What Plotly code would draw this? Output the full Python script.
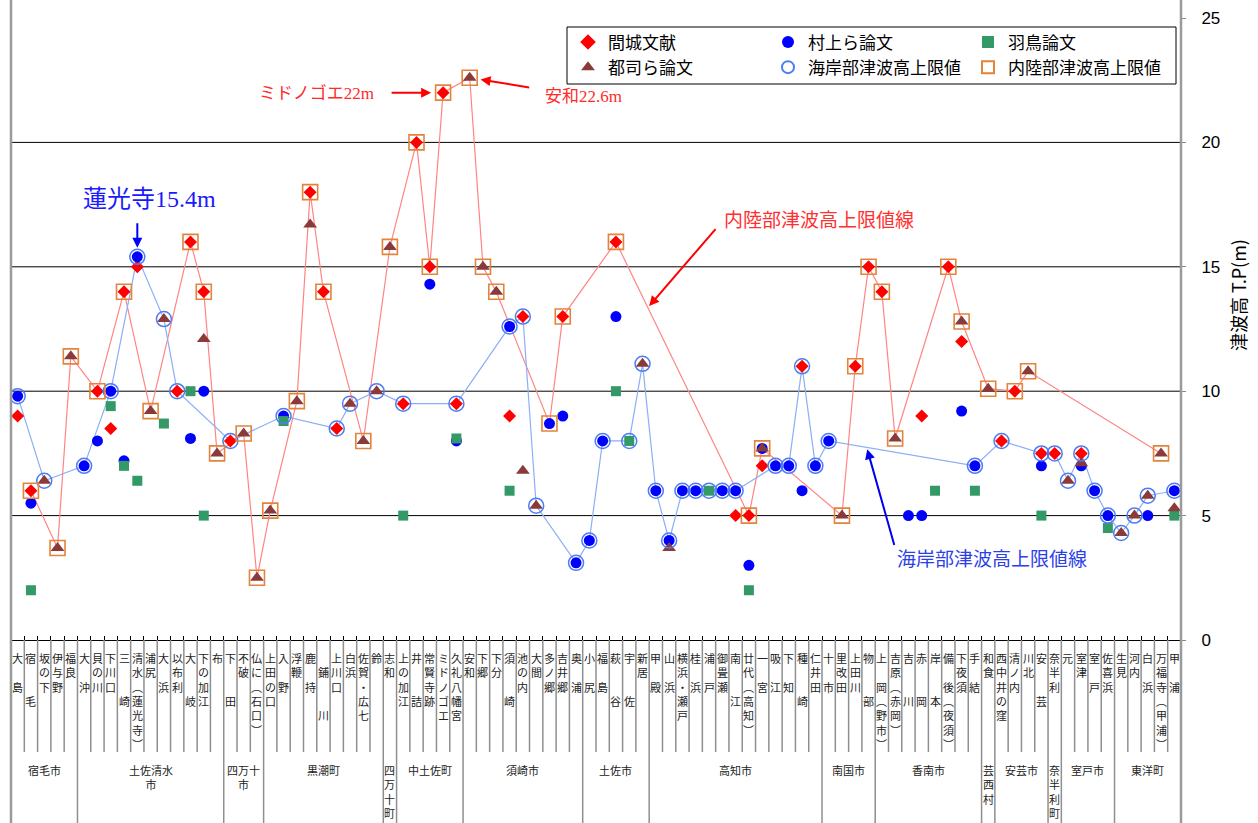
import plotly.graph_objects as go

N = None

# Coastal survey sites, west to east (vertical labels; "　" keeps a blank row)
places = [
    "大　島", "宿　　毛", "坂の下", "伊与野", "福良", "大　沖", "貝の川", "下川口", "三　　崎", "清水︵蓮光寺︶",
    "浦尻", "大　浜", "以布利", "大　　岐", "下の加江", "布", "下　　田", "不破", "仏に︵石口︶", "上田の口",
    "入　野", "浮鞭", "鹿　持", "　鋪　　川", "上川口", "白浜", "佐賀・広七", "鈴", "志和", "上の加江",
    "井　　詰", "常賢寺跡", "ミドノゴエ", "久礼八幡宮", "安和", "下郷", "下分", "須　　崎", "池の内", "大間",
    "多ノ郷", "吉井郷", "奥　浦", "小　尻", "福　島", "萩　　谷", "宇　　佐", "新居", "甲　殿", "山　浜",
    "横浜・瀬戸", "桂　浜", "浦　戸", "御畳瀬", "南　　江", "廿代︵高知︶", "一　宮", "吸　江", "下　知", "種　　崎",
    "仁井田", "十　市", "里改田", "上田川", "物　　部", "上　岡︵野市︶", "吉原︵赤岡︶", "吉　　川", "赤　　岡", "岸　　本",
    "備　後︵夜須︶", "下夜須", "手　結", "和食", "西中井の窪", "清ノ内", "川北", "安　　芸", "奈半利", "元",
    "室津", "室　戸", "佐喜浜", "生見", "河内", "白　浜", "万福寺︵甲浦︶", "甲　浦",
]

# Municipalities and how many sites each one holds
group_names = [
    "宿毛市", "土佐清水\n市", "四万十\n市", "黒潮町", "四\n万\n十\n町", "中土佐町", "須崎市", "土佐市",
    "高知市", "南国市", "香南市", "芸\n西\n村", "安芸市", "奈\n半\n利\n町", "室戸市", "東洋町",
]
group_sizes = [5, 11, 3, 9, 1, 5, 9, 5, 13, 4, 8, 1, 4, 1, 4, 5]

# Tsunami heights T.P.(m)
mashiro = [
    9.0, 6.0, N, N, N, N, 10.0, 8.5, 14.0, 15.0,
    N, N, 10.0, 16.0, 14.0, N, 8.0, N, N, N,
    N, N, 18.0, 14.0, 8.5, N, N, N, N, 9.5,
    20.0, 15.0, 22.0, 9.5, N, N, N, 9.0, 13.0, N,
    N, 13.0, N, N, N, 16.0, N, N, N, N,
    N, N, N, N, 5.0, 5.0, 7.0, N, N, 11.0,
    N, N, N, 11.0, 15.0, 14.0, N, N, 9.0, N,
    15.0, 12.0, N, N, 8.0, 10.0, N, 7.5, 7.5, N,
    7.5, N, N, N, N, N, N, N,
]
murakami = [
    9.8, 5.5, N, N, N, 7.0, 8.0, 10.0, 7.2, 15.4,
    N, N, N, 8.1, 10.0, N, N, N, N, N,
    9.0, N, N, N, N, N, N, N, N, N,
    N, 14.3, N, 8.0, N, N, N, 12.6, N, N,
    8.7, 9.0, 3.1, 4.0, 8.0, 13.0, N, N, 6.0, 4.0,
    6.0, 6.0, N, 6.0, 6.0, 3.0, 7.7, 7.0, 7.0, 6.0,
    7.0, 8.0, N, N, N, N, N, 5.0, 5.0, N,
    N, 9.2, 7.0, N, N, N, N, 7.0, N, N,
    7.0, 6.0, 5.0, N, N, 5.0, N, 6.0,
]
hatori = [
    N, 2.0, N, N, N, N, N, 9.4, 7.0, 6.4,
    N, 8.7, N, 10.0, 5.0, N, N, N, N, N,
    8.8, N, N, N, N, N, N, N, N, 5.0,
    N, N, N, 8.1, N, N, N, 6.0, N, N,
    N, N, N, N, N, 10.0, 8.0, N, N, N,
    N, N, 6.0, N, N, 2.0, N, N, N, N,
    N, N, N, N, N, N, N, N, N, 6.0,
    N, N, 6.0, N, N, N, N, 5.0, N, N,
    N, N, 4.5, N, N, N, N, 5.0,
]
tsuji = [
    N, N, 6.4, 3.7, 11.4, N, N, N, N, N,
    9.2, 12.9, N, N, 12.1, 7.5, N, 8.3, 2.5, 5.2,
    N, 9.6, 16.7, N, N, 9.5, 8.0, 10.0, 15.8, N,
    N, N, N, N, 22.6, 15.0, 14.0, N, 6.8, 5.4,
    N, N, N, N, N, N, N, 11.1, N, 3.7,
    N, N, N, N, N, N, 7.7, N, N, N,
    N, N, 5.0, N, N, N, 8.1, N, N, N,
    N, 12.8, N, 10.1, N, N, 10.8, N, N, 6.4,
    7.1, N, N, 4.3, 5.0, 5.8, 7.5, 5.3,
]
coast_limit = [
    9.8, N, 6.4, N, N, 7.0, N, 10.0, N, 15.4,
    N, 12.9, 10.0, N, N, N, 8.0, N, N, N,
    9.0, N, N, N, 8.5, 9.5, N, 10.0, N, 9.5,
    N, N, N, 9.5, N, N, N, 12.6, 13.0, 5.4,
    N, N, 3.1, 4.0, 8.0, N, 8.0, 11.1, 6.0, 4.0,
    6.0, 6.0, 6.0, 6.0, 6.0, N, N, 7.0, 7.0, 11.0,
    7.0, 8.0, N, N, N, N, N, N, N, N,
    N, N, 7.0, N, 8.0, N, N, 7.5, 7.5, 6.4,
    7.5, 6.0, 5.0, 4.3, 5.0, 5.8, N, 6.0,
]
inland_limit = [
    N, 6.0, N, 3.7, 11.4, N, 10.0, N, 14.0, N,
    9.2, N, N, 16.0, 14.0, 7.5, N, 8.3, 2.5, 5.2,
    N, 9.6, 18.0, 14.0, N, N, 8.0, N, 15.8, N,
    20.0, 15.0, 22.0, N, 22.6, 15.0, 14.0, N, N, N,
    8.7, 13.0, N, N, N, 16.0, N, N, N, N,
    N, N, N, N, N, 5.0, 7.7, N, N, N,
    N, N, 5.0, 11.0, 15.0, 14.0, 8.1, N, N, N,
    15.0, 12.8, N, 10.1, N, 10.0, 10.8, N, N, N,
    N, N, N, N, N, N, 7.5, N,
]

y_ticks = [0, 5, 10, 15, 20, 25]

# ---- page geometry (pixels) ----
W, H = 1258, 823
L, R, T, B = 11, 1181, 18, 640
JP = "Noto Sans CJK JP"
SERIF_JP = "Liberation Serif, Noto Sans CJK JP"


def paper_x(px):
    return (px - L) / (R - L)


def paper_y(py):
    return (B - py) / (B - T)


def note(px, py, text, size, color, family=JP, angle=0):
    return dict(x=paper_x(px), y=paper_y(py), xref="paper", yref="paper", xanchor="center",
                yanchor="middle", showarrow=False, text=text, textangle=angle,
                font=dict(family=family, size=size, color=color))


def arrow(x, y, ax, ay, color, standoff):
    return dict(x=x, y=y, xref="x", yref="y", text="", showarrow=True, ax=ax, ay=ay,
                standoff=standoff, arrowhead=2, arrowsize=1, arrowwidth=2, arrowcolor=color)


xs = list(range(len(places)))
n = len(places)

fig = go.Figure()

# upper-limit polylines (gaps bridged)
fig.add_trace(go.Scatter(x=xs, y=inland_limit, mode="lines", connectgaps=True,
                         line=dict(color="#FF8585", width=1.2), showlegend=False, hoverinfo="skip"))
fig.add_trace(go.Scatter(x=xs, y=coast_limit, mode="lines", connectgaps=True,
                         line=dict(color="#8DAEF6", width=1.2), showlegend=False, hoverinfo="skip"))

fig.add_trace(go.Scatter(x=xs, y=mashiro, mode="markers", name="間城文献", legend="legend",
                         marker=dict(symbol="diamond", size=10, color="#FF0000")))
fig.add_trace(go.Scatter(x=xs, y=murakami, mode="markers", name="村上ら論文", legend="legend2",
                         marker=dict(symbol="circle", size=11, color="#0000FF")))
fig.add_trace(go.Scatter(x=xs, y=hatori, mode="markers", name="羽鳥論文", legend="legend3",
                         marker=dict(symbol="square", size=10, color="#339966")))
fig.add_trace(go.Scatter(x=xs, y=tsuji, mode="markers", name="都司ら論文", legend="legend",
                         marker=dict(symbol="triangle-up", size=12, color="#8B3A3A")))
fig.add_trace(go.Scatter(x=xs, y=coast_limit, mode="markers", name="海岸部津波高上限値", legend="legend2",
                         marker=dict(symbol="circle-open", size=15, color="#4C7DF5", line=dict(width=1.5))))
fig.add_trace(go.Scatter(x=xs, y=inland_limit, mode="markers", name="内陸部津波高上限値", legend="legend3",
                         marker=dict(symbol="square-open", size=15, color="#E3843A", line=dict(width=1.6))))

shapes = []
# horizontal gridlines
for v in y_ticks[1:-1]:
    shapes.append(dict(type="line", xref="paper", x0=0, x1=1, yref="y", y0=v, y1=v,
                       line=dict(color="#000", width=1), layer="below"))
# outer frame lines, full page height
for xp in (0, 1):
    shapes.append(dict(type="line", xref="paper", x0=xp, x1=xp, yref="paper",
                       y0=paper_y(H), y1=paper_y(0), line=dict(color="#9a9a9a", width=2.5)))
# column separators under the axis; municipality borders reach the bottom
bounds = set()
acc = 0
for s in group_sizes:
    acc += s
    bounds.add(acc - 1)
for i in range(n - 1):
    bottom = paper_y(H) if i in bounds else paper_y(752)
    shapes.append(dict(type="line", xref="x", x0=i + 0.5, x1=i + 0.5, yref="paper",
                       y0=0, y1=bottom, line=dict(color="#8f8f8f", width=1.5)))
# legend frame
shapes.append(dict(type="rect", xref="paper", yref="paper",
                   x0=paper_x(567), x1=paper_x(1176), y0=paper_y(84), y1=paper_y(27),
                   line=dict(color="#000", width=1), fillcolor="white", layer="below"))

annotations = []
# vertical site labels
for i, name in enumerate(places):
    annotations.append(dict(x=i, xref="x", y=0, yref="paper", yanchor="top", xanchor="center",
                            yshift=-8, showarrow=False, text="<br>".join(list(name)),
                            font=dict(family=JP, size=11, color="#222")))
# municipality labels
start = 0
for name, s in zip(group_names, group_sizes):
    center = start + (s - 1) / 2
    annotations.append(dict(x=center, xref="x", y=0, yref="paper", yanchor="top", xanchor="center",
                            yshift=-120, showarrow=False, text=name.replace("\n", "<br>"),
                            font=dict(family=JP, size=11, color="#222")))
    start += s

# y-axis title
annotations.append(note(1238, 295, "津波高 T.P(m)", 18, "#000", angle=-90))

# call-outs
i_ren, i_mido, i_anwa = 9, 32, 34
annotations.append(note(149, 199, f"蓮光寺{coast_limit[i_ren]}m", 24, "#1A1AFF", SERIF_JP))
annotations.append(arrow(i_ren, coast_limit[i_ren], 0, -35, "#0000FF", 9))

annotations.append(note(316, 93, f"ミドノゴエ{mashiro[i_mido]:g}m", 17, "#FF2A2A", SERIF_JP))
annotations.append(arrow(i_mido, mashiro[i_mido], -53, 0, "#FF0000", 12))

annotations.append(note(583, 97, f"安和{tsuji[i_anwa]}m", 17, "#FF2A2A", SERIF_JP))
annotations.append(arrow(i_anwa, tsuji[i_anwa], 61, 10, "#FF0000", 11))


def on_segment(vals, a, b, t):
    return a + (b - a) * t, vals[a] + (vals[b] - vals[a]) * t


hx, hy = on_segment(inland_limit, 45, 55, 0.24)
annotations.append(note(819, 218, "内陸部津波高上限値線", 19, "#FF3030"))
annotations.append(arrow(hx, hy, 69, -80, "#FF0000", 2))

hx, hy = on_segment(coast_limit, 61, 72, 0.26)
annotations.append(note(992, 557, "海岸部津波高上限値線", 19, "#2D3FE8"))
annotations.append(arrow(hx, hy, 28, 99, "#0000EE", 2))

legend_common = dict(bgcolor="rgba(0,0,0,0)", borderwidth=0, xanchor="left", yanchor="top",
                     y=paper_y(24.5), font=dict(family=JP, size=17, color="#000"),
                     itemsizing="constant", itemwidth=30, tracegroupgap=0)

fig.update_layout(
    width=W, height=H,
    margin=dict(l=L, r=W - R, t=T, b=H - B, autoexpand=False),
    paper_bgcolor="white", plot_bgcolor="white",
    font=dict(family=JP, color="#000"),
    xaxis=dict(range=[-0.5, n - 0.5], showgrid=False, zeroline=False, showline=True,
               linecolor="#000", linewidth=1, ticks="inside", ticklen=4, tickcolor="#000",
               tickmode="array", tickvals=[i + 0.5 for i in range(n - 1)], showticklabels=False),
    yaxis=dict(range=[0, 25], side="right", showgrid=False, zeroline=False, showline=False,
               tickmode="array", tickvals=y_ticks, ticks="outside", ticklen=4, tickcolor="#888",
               tickfont=dict(family="Liberation Sans", size=17, color="#000"), ticklabelstandoff=12),
    legend=dict(x=paper_x(568), **legend_common),
    legend2=dict(x=paper_x(768), **legend_common),
    legend3=dict(x=paper_x(968), **legend_common),
    shapes=shapes,
    annotations=annotations,
)

fig.write_html("out.html")
